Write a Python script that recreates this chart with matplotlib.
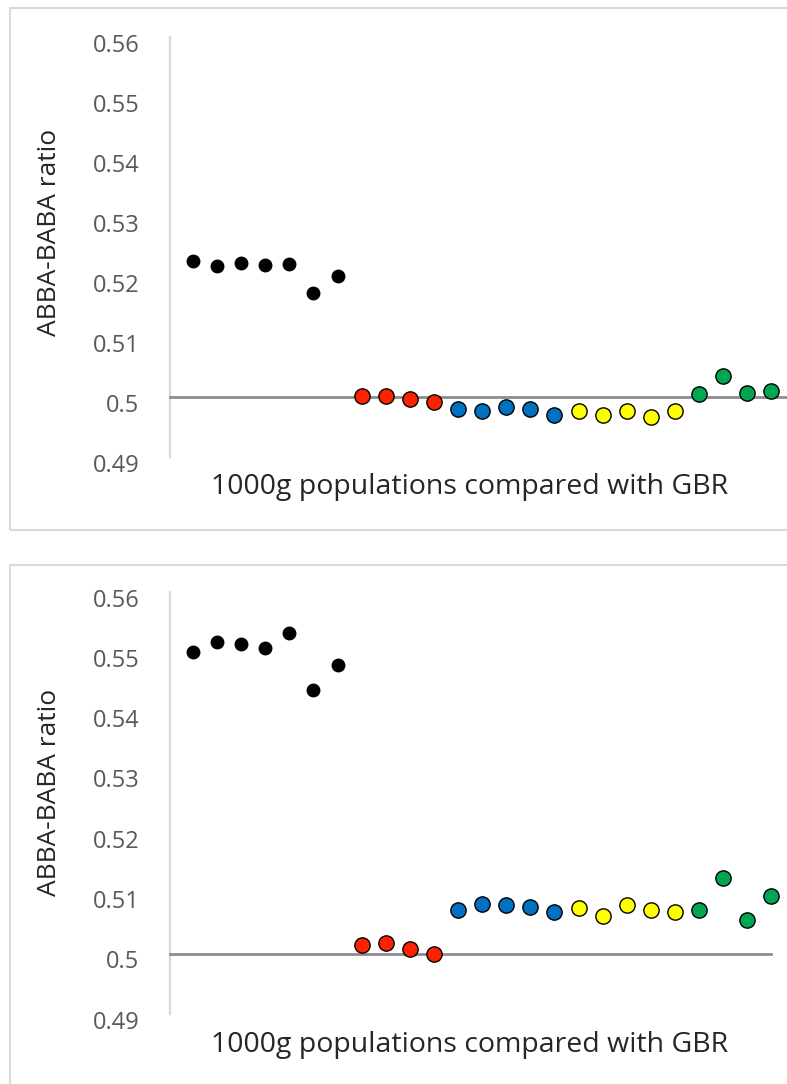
import numpy as np
import matplotlib.pyplot as plt
import matplotlib.transforms as mtransforms
from matplotlib.patches import Rectangle

plt.rcParams['font.family'] = ['Open Sans', 'DejaVu Sans']

# 25 populations, grouped by colour
group_colors = ['black'] * 7 + ['#ff2200'] * 4 + ['#0070c0'] * 5 + ['#ffff00'] * 5 + ['#00a651'] * 4
positions = np.arange(1, 26)

top_values = [0.5226, 0.5219, 0.5224, 0.5220, 0.5221, 0.5174, 0.5202,
              0.5001, 0.5001, 0.4996, 0.4992,
              0.4980, 0.4976, 0.4984, 0.4980, 0.4970,
              0.4976, 0.4970, 0.4976, 0.4966, 0.4976,
              0.5005, 0.5035, 0.5007, 0.5010]

bottom_values = [0.5500, 0.5517, 0.5514, 0.5507, 0.5532, 0.5438, 0.5479,
                 0.5014, 0.5018, 0.5008, 0.5000,
                 0.5073, 0.5083, 0.5080, 0.5077, 0.5070,
                 0.5076, 0.5063, 0.5081, 0.5073, 0.5070,
                 0.5073, 0.5126, 0.5056, 0.5095]

yticks = [0.49, 0.50, 0.51, 0.52, 0.53, 0.54, 0.55, 0.56]
ytick_labels = ['0.49', '0.5', '0.51', '0.52', '0.53', '0.54', '0.55', '0.56']

W, H = 787, 1084
fig = plt.figure(figsize=(W / 100, H / 100), dpi=100)

# panel frames
for top, bottom in [(8, 530), (565, 1100)]:
    fig.patches.append(Rectangle((10 / W, 1 - bottom / H), 1, (bottom - top) / H,
                                 transform=fig.transFigure, facecolor='none',
                                 edgecolor='#d9d9d9', linewidth=1.5, zorder=-1))


def draw_panel(ax, values, line_end):
    for x, v, c in zip(positions, values, group_colors):
        if c == 'black':
            ax.plot(x, v, 'o', color='black', markersize=10, markeredgewidth=0,
                    zorder=3, clip_on=False)
        else:
            ax.plot(x, v, 'o', markerfacecolor=c, markeredgecolor='black',
                    markersize=11, markeredgewidth=1.0, zorder=3, clip_on=False)
    ax.set_xlim(0.05, 25.65)
    ax.set_ylim(0.49, 0.56)
    ax.set_yticks(yticks)
    ax.set_yticklabels(ytick_labels)
    ax.tick_params(axis='y', length=0, pad=22, labelsize=17, labelcolor='#595959')
    # Excel draws the value labels a little below their gridline
    shift = mtransforms.ScaledTranslation(0, -4 / 72, fig.dpi_scale_trans)
    for lab in ax.get_yticklabels():
        lab.set_transform(lab.get_transform() + shift)
    ax.set_xticks([])
    for s in ['top', 'right']:
        ax.spines[s].set_visible(False)
    ax.spines['left'].set_color('#d9d9d9')
    ax.spines['left'].set_linewidth(1.6)
    ax.spines['bottom'].set_position(('data', 0.5))
    ax.spines['bottom'].set_color('#8c8c8c')
    ax.spines['bottom'].set_linewidth(2.0)
    ax.spines['bottom'].set_bounds(0.05, line_end)
    ax.patch.set_alpha(0)


ax1 = fig.add_axes([170 / W, 1 - 457 / H, (W - 170) / W, 420 / H])
draw_panel(ax1, top_values, 25.65)
ax2 = fig.add_axes([170 / W, 1 - 1014 / H, (W - 170) / W, 422 / H])
draw_panel(ax2, bottom_values, 25.0)

for ylab_y, title_y in [(232, 487), (792, 1045)]:
    fig.text(50 / W, 1 - ylab_y / H, 'ABBA-BABA ratio', rotation=90,
             ha='center', va='center', fontsize=19, color='#262626')
    fig.text(470 / W, 1 - title_y / H, '1000g populations compared with GBR',
             ha='center', va='center', fontsize=20.5, color='#262626')

fig.savefig('out.png', dpi=100)
